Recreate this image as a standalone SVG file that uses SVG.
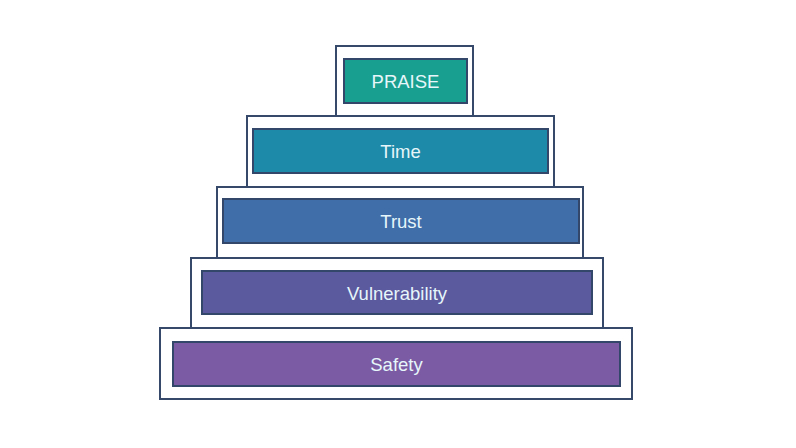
<svg xmlns="http://www.w3.org/2000/svg" width="796" height="448" viewBox="0 0 796 448">
<style>
.outer{fill:#fff;stroke:#36496b;stroke-width:2}
.inner{stroke:#33476a;stroke-width:2}
.lbl{font-family:"Liberation Sans",Arial,sans-serif;font-size:18.5px;fill:#e6f6fa;text-anchor:middle;dominant-baseline:central}
</style>
<rect width="796" height="448" fill="#fff"/>
<g id="safety">
<rect class="outer" x="160" y="328" width="472" height="71"/>
<rect class="inner" x="173" y="342" width="447" height="44" fill="#7b5ba3"/>
<text class="lbl" x="396.5" y="364">Safety</text>
</g>
<g id="vulnerability">
<rect class="outer" x="191" y="258" width="412" height="70"/>
<rect class="inner" x="202" y="271" width="390" height="43" fill="#5c5a9f"/>
<text class="lbl" x="397" y="293">Vulnerability</text>
</g>
<g id="trust">
<rect class="outer" x="217" y="187" width="366" height="71"/>
<rect class="inner" x="223" y="199" width="356" height="44" fill="#3f6ea9"/>
<text class="lbl" x="401" y="221">Trust</text>
</g>
<g id="time">
<rect class="outer" x="247" y="116" width="307" height="71"/>
<rect class="inner" x="253" y="129" width="295" height="44" fill="#1c8aa8"/>
<text class="lbl" x="400.5" y="151">Time</text>
</g>
<g id="praise">
<rect class="outer" x="336" y="46" width="137" height="70"/>
<rect class="inner" x="344" y="59" width="123" height="44" fill="#189f8f"/>
<text class="lbl" x="405.5" y="81">PRAISE</text>
</g>
<g id="connectors"></g>
</svg>
